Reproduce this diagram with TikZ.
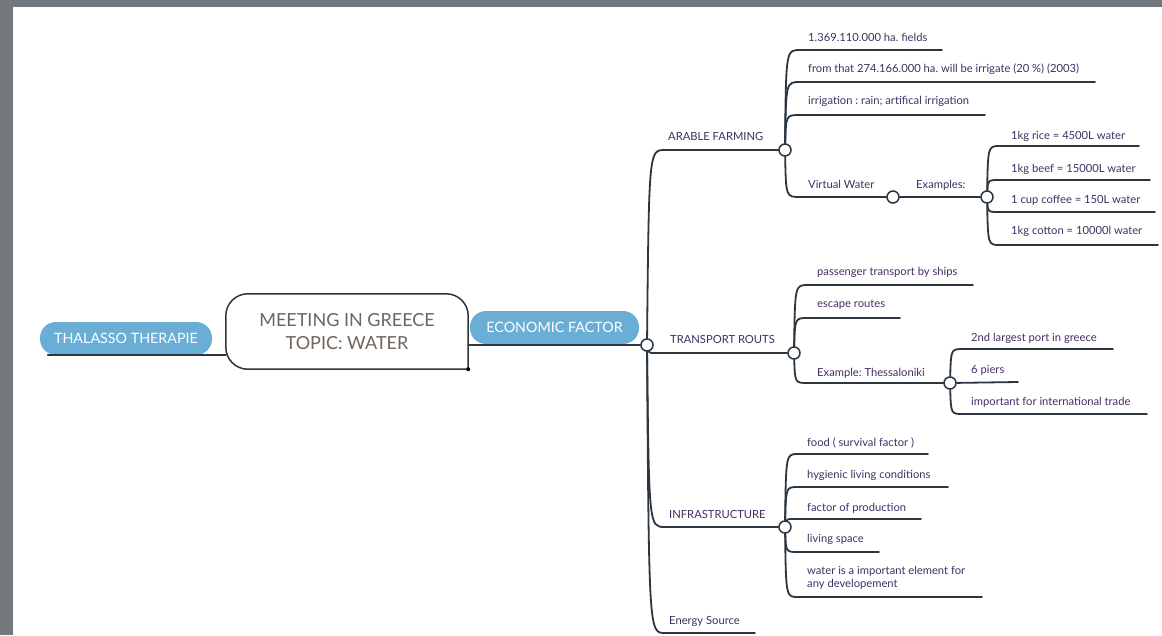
\documentclass[tikz,border=0pt]{standalone}
\usepackage{fontspec}
\setmainfont{Lato}
\usepackage{xcolor}
\frenchspacing
\definecolor{framec}{RGB}{115,120,124}
\definecolor{linec}{RGB}{43,54,64}
\definecolor{txtc}{RGB}{64,48,100}
\definecolor{pillc}{RGB}{106,174,214}
\definecolor{titlec}{RGB}{110,101,92}
\tikzset{
  line/.style={draw=linec, line width=1.8pt, line cap=round},
  hub/.style={circle, draw=linec, line width=1.5pt, fill=white, minimum size=12pt, inner sep=0pt},
  lbl/.style={text=txtc, font=\fontsize{11.2}{13}\selectfont, anchor=base west, inner sep=0pt},
  pill/.style={fill=pillc, rounded corners=16pt, text=white, minimum height=33pt, font=\fontsize{14.3}{16}\selectfont},
  centre/.style={text=titlec, align=center, minimum width=242pt, minimum height=75pt, font=\fontsize{18}{23}\selectfont}
}
\begin{document}
\begin{tikzpicture}[x=1pt,y=-1pt]
		\useasboundingbox (0,0) rectangle (1162,635);
		\fill[white] (0,0) rectangle (1162,635);
		\fill[framec] (0,0) rectangle (1162,7);
		\fill[framec] (0,0) rectangle (13,635);

		\node[centre] (meet) at (347,331.5) {MEETING IN GREECE\\TOPIC: WATER};
		\draw[linec, line width=1.5pt, rounded corners=22pt] (meet.south east) -- (meet.south west) -- (meet.north west) -- (meet.north east) -- (meet.south east);
		\fill[black] (meet.south east) circle (2pt);
		\node[pill, minimum width=172pt] (thal) at (126,338.5) {THALASSO THERAPIE};
		\node[pill, minimum width=169pt] (eco) at (554.5,327.5) {ECONOMIC FACTOR};

		\node[hub] (ec) at (647,345) {};
		\node[hub] (af) at (785,150) {};
		\node[hub] (tr) at (794,353) {};
		\node[hub] (inf) at (785,527) {};
		\node[hub] (vw) at (893,197) {};
		\node[hub] (ex) at (987,197) {};
		\node[hub] (th) at (950,383) {};

		\coordinate (ene) at (755,633);
		\coordinate (a1e) at (942,50);
		\coordinate (a2e) at (1095,82);
		\coordinate (a3e) at (985,115);
		\coordinate (e1e) at (1139,146);
		\coordinate (e2e) at (1150,180);
		\coordinate (e3e) at (1155,212);
		\coordinate (e4e) at (1158,245);
		\coordinate (t1e) at (973,285);
		\coordinate (t2e) at (900,318);
		\coordinate (s1e) at (1113,349);
		\coordinate (s2e) at (1018,382);
		\coordinate (s3e) at (1147,414);
		\coordinate (i1e) at (928,454);
		\coordinate (i2e) at (948,487);
		\coordinate (i3e) at (921,519);
		\coordinate (i4e) at (879,552);
		\coordinate (i5e) at (982,597);

		\draw[line] ([xshift=8pt]thal.south west) -- (meet.west |- thal.south);
		\draw[line] (meet.east |- ec) -- (ec);

		\draw[line] (ec) .. controls (649,150) .. (665,150) -- (af);
		\draw[line] (ec) .. controls (649,353) .. (662,353) -- (tr);
		\draw[line] (ec) .. controls (649,527) .. (665,527) -- (inf);
		\draw[line] (ec) .. controls (649,633) .. (665,633) -- (ene);

		\draw[line] (af) .. controls (786,50) .. (800,50) -- (a1e);
		\draw[line] (af) .. controls (786,82) .. (800,82) -- (a2e);
		\draw[line] (af) .. controls (786,115) .. (800,115) -- (a3e);
		\draw[line] (af) .. controls (786,197) .. (800,197) -- (vw);
		\draw[line] (vw) -- (ex);
		\draw[line] (ex) .. controls (988,146) .. (1000,146) -- (e1e);
		\draw[line] (ex) .. controls (988,180) .. (1000,180) -- (e2e);
		\draw[line] (ex) .. controls (988,212) .. (1000,212) -- (e3e);
		\draw[line] (ex) .. controls (988,245) .. (1000,245) -- (e4e);

		\draw[line] (tr) .. controls (795,285) .. (808,285) -- (t1e);
		\draw[line] (tr) .. controls (795,318) .. (808,318) -- (t2e);
		\draw[line] (tr) .. controls (795,383) .. (808,383) -- (th);
		\draw[line] (th) .. controls (951,349) .. (963,349) -- (s1e);
		\draw[line] (th) -- (s2e);
		\draw[line] (th) .. controls (951,414) .. (963,414) -- (s3e);

		\draw[line] (inf) .. controls (786,454) .. (798,454) -- (i1e);
		\draw[line] (inf) .. controls (786,487) .. (798,487) -- (i2e);
		\draw[line] (inf) .. controls (787,519) .. (798,519) -- (i3e);
		\draw[line] (inf) .. controls (786,552) .. (798,552) -- (i4e);
		\draw[line] (inf) .. controls (786,597) .. (798,597) -- (i5e);

		\node[lbl] (aflbl) at (668,140) {ARABLE FARMING};
		\node[lbl] (trlbl) at (670,343) {TRANSPORT ROUTS};
		\node[lbl] (inflbl) at (669,518) {INFRASTRUCTURE};
		\node[lbl] (enlbl) at (669,624) {Energy Source};

		\node[lbl] (a1) at (808,41) {1.369.110.000 ha. fields};
		\node[lbl] (a2) at (808,72) {from that 274.166.000 ha. will be irrigate (20 \%) (2003)};
		\node[lbl] (a3) at (808,104) {irrigation : rain; artifical irrigation};
		\node[lbl] (a4) at (808,188) {Virtual Water};
		\node[lbl] (exlbl) at (916,188) {Examples:};
		\node[lbl] (e1) at (1011,139) {1kg rice = 4500L water};
		\node[lbl] (e2) at (1011,172) {1kg beef = 15000L water};
		\node[lbl] (e3) at (1011,203) {1 cup coffee = 150L water};
		\node[lbl] (e4) at (1011,234) {1kg cotton = 10000l water};

		\node[lbl] (t1) at (817,275) {passenger transport by ships};
		\node[lbl] (t2) at (817,307) {escape routes};
		\node[lbl] (t3) at (817,376) {Example: Thessaloniki};
		\node[lbl] (s1) at (971,341) {2nd largest port in greece};
		\node[lbl] (s2) at (971,373) {6 piers};
		\node[lbl] (s3) at (971,405) {important for international trade};

		\node[lbl] (i1) at (807,446) {food ( survival factor )};
		\node[lbl] (i2) at (807,478) {hygienic living conditions};
		\node[lbl] (i3) at (807,511) {factor of production};
		\node[lbl] (i4) at (807,542) {living space};
		\node[lbl, align=left] (i5) at (807,587) {water is a important element for\\any developement};
	\end{tikzpicture}
\end{document}
